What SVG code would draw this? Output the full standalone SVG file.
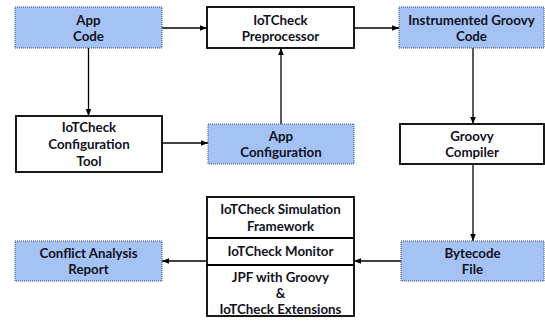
<svg xmlns="http://www.w3.org/2000/svg" width="545" height="326" viewBox="0 0 545 326">
<defs>
<style>
.blue{fill:#a4c2f4;stroke:#3c4a6e;stroke-width:1;stroke-dasharray:1,1}
.white{fill:#ffffff;stroke:#000000;stroke-width:1.8}
.t{font-family:Lato,"Open Sans","DejaVu Sans",sans-serif;font-weight:bold;font-size:13.3px;fill:#111122;text-anchor:middle;dominant-baseline:central}
.c{stroke:#000;stroke-width:1.3;fill:none;marker-end:url(#ah)}
</style>
<marker id="ah" viewBox="0 0 10 10" refX="10" refY="5" markerWidth="7" markerHeight="7" markerUnits="userSpaceOnUse" orient="auto">
<path d="M0,1 L10,5 L0,9 z" fill="#000"/>
</marker>
</defs>
<rect width="545" height="326" fill="#fff"/>
<g id="connectors">
<line class="c" x1="162" y1="28" x2="207" y2="28"/>
<line class="c" x1="354" y1="28" x2="399" y2="28"/>
<line class="c" x1="88.5" y1="48" x2="88.5" y2="116"/>
<line class="c" x1="162" y1="143" x2="208" y2="143"/>
<line class="c" x1="281" y1="124" x2="281" y2="48"/>
<line class="c" x1="473" y1="48" x2="473" y2="124"/>
<line class="c" x1="473" y1="164" x2="473" y2="241"/>
<line class="c" x1="401" y1="261" x2="354" y2="261"/>
<line class="c" x1="207" y1="261" x2="162" y2="261"/>
</g>
<g id="app-code">
<rect class="blue" x="15" y="7" width="147" height="41"/>
<text class="t" x="88.5" y="19.5">App</text>
<text class="t" x="88.5" y="36">Code</text>
</g>
<g id="preprocessor">
<rect class="white" x="207" y="7" width="147" height="41"/>
<text class="t" x="280.5" y="19.5">IoTCheck</text>
<text class="t" x="280.5" y="36">Preprocessor</text>
</g>
<g id="instrumented">
<rect class="blue" x="399" y="7" width="145" height="41"/>
<text class="t" x="471.5" y="19.5">Instrumented Groovy</text>
<text class="t" x="471.5" y="36">Code</text>
</g>
<g id="config-tool">
<rect class="white" x="16" y="116" width="146" height="56"/>
<text class="t" x="89" y="127">IoTCheck</text>
<text class="t" x="89" y="144">Configuration</text>
<text class="t" x="89" y="161">Tool</text>
</g>
<g id="app-config">
<rect class="blue" x="208" y="124" width="146" height="40"/>
<text class="t" x="281" y="135.5">App</text>
<text class="t" x="281" y="152">Configuration</text>
</g>
<g id="groovy-compiler">
<rect class="white" x="400" y="124" width="144" height="40"/>
<text class="t" x="472" y="135.5">Groovy</text>
<text class="t" x="472" y="152">Compiler</text>
</g>
<g id="conflict-report">
<rect class="blue" x="15" y="241" width="147" height="40"/>
<text class="t" x="88.5" y="252.5">Conflict Analysis</text>
<text class="t" x="88.5" y="269">Report</text>
</g>
<g id="stack">
<rect class="white" x="207" y="197" width="147" height="119"/>
<line x1="207" y1="238" x2="354" y2="238" stroke="#000" stroke-width="1.8"/>
<line x1="207" y1="265" x2="354" y2="265" stroke="#000" stroke-width="1.8"/>
<text class="t" x="280.5" y="209">IoTCheck Simulation</text>
<text class="t" x="280.5" y="225.5">Framework</text>
<text class="t" x="280.5" y="251">IoTCheck Monitor</text>
<text class="t" x="280.5" y="276.5">JPF with Groovy</text>
<text class="t" x="280.5" y="292.5">&amp;</text>
<text class="t" x="280.5" y="308.5">IoTCheck Extensions</text>
</g>
<g id="bytecode">
<rect class="blue" x="401" y="241" width="143" height="40"/>
<text class="t" x="472.5" y="252.5">Bytecode</text>
<text class="t" x="472.5" y="269">File</text>
</g>
</svg>
